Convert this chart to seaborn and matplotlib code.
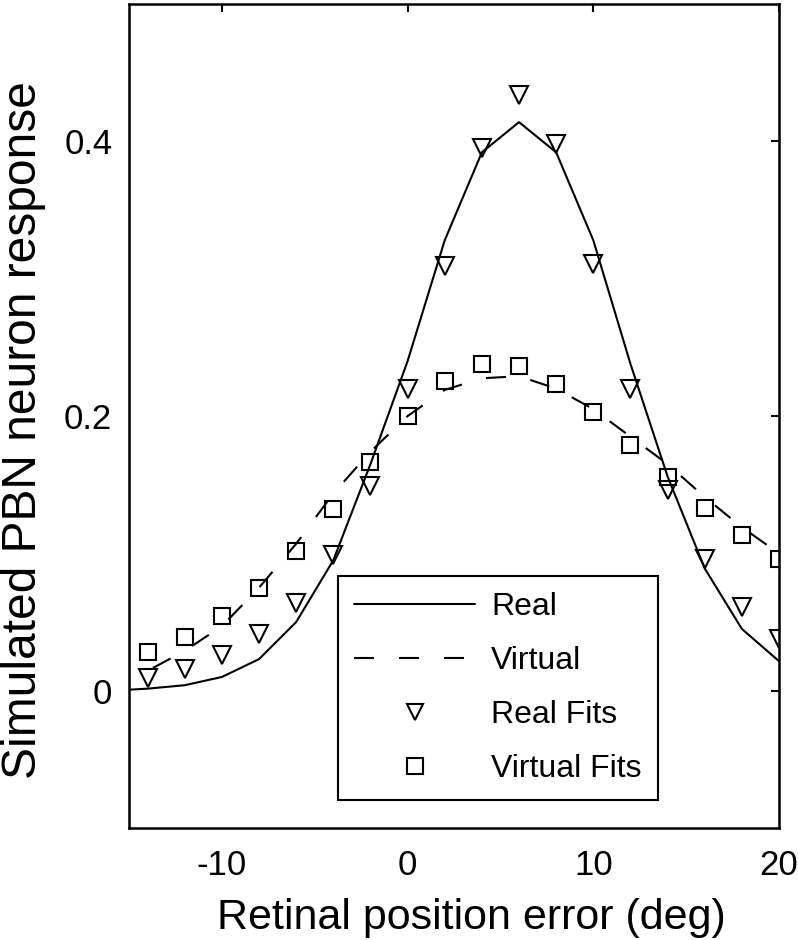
import matplotlib
matplotlib.use("Agg")
import matplotlib.pyplot as plt
import seaborn as sns

# values
x_fit = [-14, -12, -10, -8, -6, -4, -2, 0, 2, 4, 6, 8, 10, 12, 14, 16, 18, 20]
real_fits = [0.0095, 0.016, 0.026, 0.041, 0.064, 0.0985, 0.149, 0.220, 0.309,
             0.3955, 0.434, 0.398, 0.311, 0.220, 0.146, 0.0956, 0.061, 0.0375]
virtual_fits = [0.028, 0.039, 0.0546, 0.075, 0.1017, 0.1326, 0.1668, 0.1997, 0.2253,
                0.238, 0.2363, 0.2233, 0.2026, 0.179, 0.1558, 0.1334, 0.1136, 0.096]

x_curve = [-16, -14, -12, -10, -8, -6, -4, -2, 0, 2, 4, 6, 8, 10, 12, 14, 16, 18, 20]
real_curve = [0.0, 0.0015, 0.004, 0.010, 0.023, 0.050, 0.095, 0.165, 0.240, 0.328,
              0.392, 0.414, 0.392, 0.328, 0.238, 0.156, 0.089, 0.045, 0.0215]
virtual_curve = [0.006, 0.0145, 0.029, 0.047, 0.075, 0.107, 0.1436, 0.174, 0.200, 0.219,
                 0.2275, 0.229, 0.220, 0.205, 0.185, 0.165, 0.141, 0.119, 0.100]

xticks = [-10, 0, 10, 20]
yticks = [0, 0.2, 0.4]
ytick_labels = ["0", "0.2", "0.4"]

sns.set_style("white")
plt.rcParams["font.family"] = ["Liberation Sans", "DejaVu Sans"]
plt.rcParams["text.color"] = "black"

fig = plt.figure(figsize=(7.98, 9.40), dpi=100)
ax = fig.add_axes([0.1617, 0.1191, 0.8145, 0.8766])

lw = 1.5
sns.lineplot(x=x_curve, y=real_curve, color="black", lw=lw, label="Real", ax=ax)
sns.lineplot(x=x_curve, y=virtual_curve, color="black", lw=lw,
             linestyle=(0, (9.6, 12)), label="Virtual", ax=ax)
sns.lineplot(x=x_fit, y=real_fits, color="black", linestyle="", marker="v",
             markersize=12.5, markerfacecolor="none", markeredgecolor="black",
             markeredgewidth=1.5, label="Real Fits", ax=ax)
sns.lineplot(x=x_fit, y=virtual_fits, color="black", linestyle="", marker="s",
             markersize=12.2, markerfacecolor="none", markeredgecolor="black",
             markeredgewidth=1.5, label="Virtual Fits", ax=ax)

ax.set_xlim(-15, 20)
ax.set_ylim(-0.1, 0.5)
ax.set_xticks(xticks)
ax.set_xticklabels([str(t) for t in xticks])
ax.set_yticks(yticks)
ax.set_yticklabels(ytick_labels)

for side in ax.spines.values():
    side.set_color("black")
    side.set_linewidth(1.8)

ax.tick_params(axis="both", direction="in", length=6, width=1.5, color="black",
               top=True, right=True, labelsize=25, labelcolor="black")
ax.tick_params(axis="x", pad=15)
ax.tick_params(axis="y", pad=12)

ax.set_xlabel("Retinal position error (deg)", fontsize=31, color="black")
ax.set_ylabel("Simulated PBN neuron response", fontsize=34.5, color="black")
ax.xaxis.set_label_coords(0.526, -0.085)
ax.yaxis.set_label_coords(-0.128, 0.483)

leg = ax.legend(loc="lower left", bbox_to_anchor=(0.3215, 0.034), borderaxespad=0,
                fontsize=23, frameon=True, fancybox=False, framealpha=1,
                edgecolor="black", handlelength=3.8, handletextpad=0.5,
                borderpad=0.5, labelspacing=0.75, markerscale=0.95,
                labelcolor="black")
leg.get_frame().set_linewidth(1.5)

fig.savefig("out.png", dpi=100)
